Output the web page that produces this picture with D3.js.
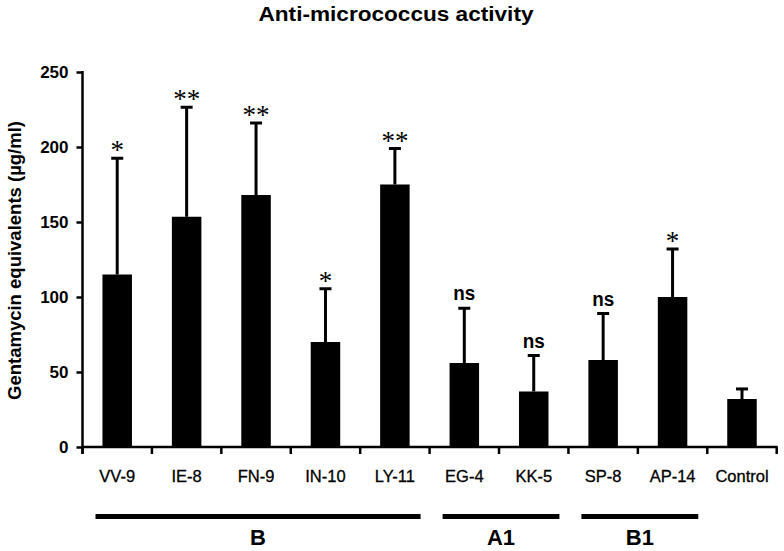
<!DOCTYPE html>
<html>
<head>
<meta charset="utf-8">
<script src="https://cdn.jsdelivr.net/npm/d3@7"></script>
<style>
  html, body { margin: 0; padding: 0; background: #fff; }
  svg { display: block; }
</style>
</head>
<body>
<svg id="chart" width="784" height="551"></svg>
<script>
// ---- data ----
const categories = ["VV-9", "IE-8", "FN-9", "IN-10", "LY-11", "EG-4", "KK-5", "SP-8", "AP-14", "Control"];
const means      = [115, 153.5, 168, 70, 175, 56, 37, 58, 100, 32];
const upperSD    = [77.5, 73, 48, 35.5, 24, 36.5, 24, 31, 32, 6.7];
const significance = ["*", "**", "**", "*", "**", "ns", "ns", "ns", "*", ""];
const yTicks = [0, 50, 100, 150, 200, 250];
const groupNames = ["B", "A1", "B1"];
const groupFirst = ["VV-9", "EG-4", "SP-8"];
const groupLast  = ["LY-11", "KK-5", "AP-14"];
const title = "Anti-micrococcus activity";
const yTitle = "Gentamycin equivalents (\u00b5g/ml)";

// ---- layout ----
const svg = d3.select("#chart");
const mLeft = 82.5, mRight = 776.7, mTop = 72, mBottom = 447;
const font = "'Liberation Sans', Arial, Helvetica, sans-serif";

const x = d3.scaleBand().domain(categories).range([mLeft, mRight]).paddingInner(0).paddingOuter(0);
const y = d3.scaleLinear().domain([0, 250]).range([mBottom, mTop]);
const barW = 29.5;

// title
svg.append("text")
  .attr("x", 396).attr("y", 21)
  .attr("text-anchor", "middle")
  .attr("font-family", font).attr("font-weight", "bold").attr("font-size", 20)
  .attr("textLength", 275).attr("lengthAdjust", "spacingAndGlyphs")
  .text(title);

// y title
svg.append("text")
  .attr("transform", `translate(21,${(mTop + mBottom) / 2 + 1}) rotate(-90)`)
  .attr("text-anchor", "middle")
  .attr("font-family", font).attr("font-weight", "bold").attr("font-size", 18.5)
  .text(yTitle);

// bars
const data = categories.map((c, i) => ({ c, m: means[i], e: upperSD[i], s: significance[i] }));
svg.append("g").selectAll("rect").data(data).join("rect")
  .attr("x", d => x(d.c) + (x.bandwidth() - barW) / 2)
  .attr("y", d => y(d.m))
  .attr("width", barW)
  .attr("height", d => y(0) - y(d.m))
  .attr("fill", "#000");

// error bars
const eb = svg.append("g").attr("stroke", "#000");
eb.selectAll("line.v").data(data).join("line").attr("class", "v")
  .attr("x1", d => x(d.c) + x.bandwidth() / 2).attr("x2", d => x(d.c) + x.bandwidth() / 2)
  .attr("y1", d => y(d.m)).attr("y2", d => y(d.m + d.e))
  .attr("stroke-width", 3);
eb.selectAll("line.h").data(data).join("line").attr("class", "h")
  .attr("x1", d => x(d.c) + x.bandwidth() / 2 - 6).attr("x2", d => x(d.c) + x.bandwidth() / 2 + 6)
  .attr("y1", d => y(d.m + d.e)).attr("y2", d => y(d.m + d.e))
  .attr("stroke-width", 3);

// significance labels
const sig = svg.append("g");
data.filter(d => d.s === "ns").forEach(d => {
  sig.append("text")
    .attr("x", x(d.c) + x.bandwidth() / 2).attr("y", y(d.m + d.e) - 8)
    .attr("text-anchor", "middle")
    .attr("font-family", font).attr("font-weight", "bold").attr("font-size", 20)
    .attr("textLength", 22).attr("lengthAdjust", "spacingAndGlyphs")
    .text(d.s);
});
data.filter(d => d.s.startsWith("*")).forEach(d => {
  sig.append("text")
    .attr("x", x(d.c) + x.bandwidth() / 2).attr("y", y(d.m + d.e) + 1)
    .attr("text-anchor", "middle")
    .attr("font-family", "'Liberation Serif', 'Times New Roman', serif")
    .attr("font-size", 27)
    .attr("letter-spacing", 0)
    .attr("fill", "#000")
    .text(d.s);
});

// y axis
const yAxis = svg.append("g").attr("transform", `translate(${mLeft},0)`)
  .call(d3.axisLeft(y).tickValues(yTicks).tickSize(6).tickPadding(8).tickFormat(d3.format("d")));
yAxis.select(".domain").remove();
yAxis.append("line").attr("x1", 0).attr("x2", 0).attr("y1", mTop - 1).attr("y2", mBottom + 7)
  .attr("stroke", "#000").attr("stroke-width", 2.5);
yAxis.selectAll(".tick line").attr("stroke", "#000").attr("stroke-width", 2.5);
yAxis.selectAll(".tick text")
  .attr("font-family", font).attr("font-weight", "bold").attr("font-size", 17).attr("fill", "#000");

// x axis
const xAxis = svg.append("g").attr("transform", `translate(0,${mBottom})`);
xAxis.append("line").attr("x1", mLeft).attr("x2", mRight + 1).attr("y1", 0).attr("y2", 0)
  .attr("stroke", "#000").attr("stroke-width", 2.5);
const bounds = categories.map(c => x(c)).concat([mRight]);
xAxis.selectAll("line.t").data(bounds).join("line").attr("class", "t")
  .attr("x1", d => d).attr("x2", d => d).attr("y1", 0).attr("y2", 7)
  .attr("stroke", "#000").attr("stroke-width", 2.5);
xAxis.selectAll("text").data(categories).join("text")
  .attr("x", d => x(d) + x.bandwidth() / 2).attr("y", 35)
  .attr("text-anchor", "middle")
  .attr("font-family", font).attr("font-size", 16.5).attr("fill", "#000")
  .attr("stroke", "#000").attr("stroke-width", 0.3)
  .text(d => d);

// group bars
const grp = svg.append("g");
groupNames.forEach((g, i) => {
  const x1 = x(groupFirst[i]) + 13;
  const x2 = x(groupLast[i]) + x.bandwidth() - 9;
  grp.append("line").attr("x1", x1).attr("x2", x2).attr("y1", 516.5).attr("y2", 516.5)
    .attr("stroke", "#000").attr("stroke-width", 5);
  grp.append("text").attr("x", (x1 + x2) / 2).attr("y", 544.5)
    .attr("text-anchor", "middle")
    .attr("font-family", font).attr("font-weight", "bold").attr("font-size", 22)
    .text(g);
});
</script>
</body>
</html>
